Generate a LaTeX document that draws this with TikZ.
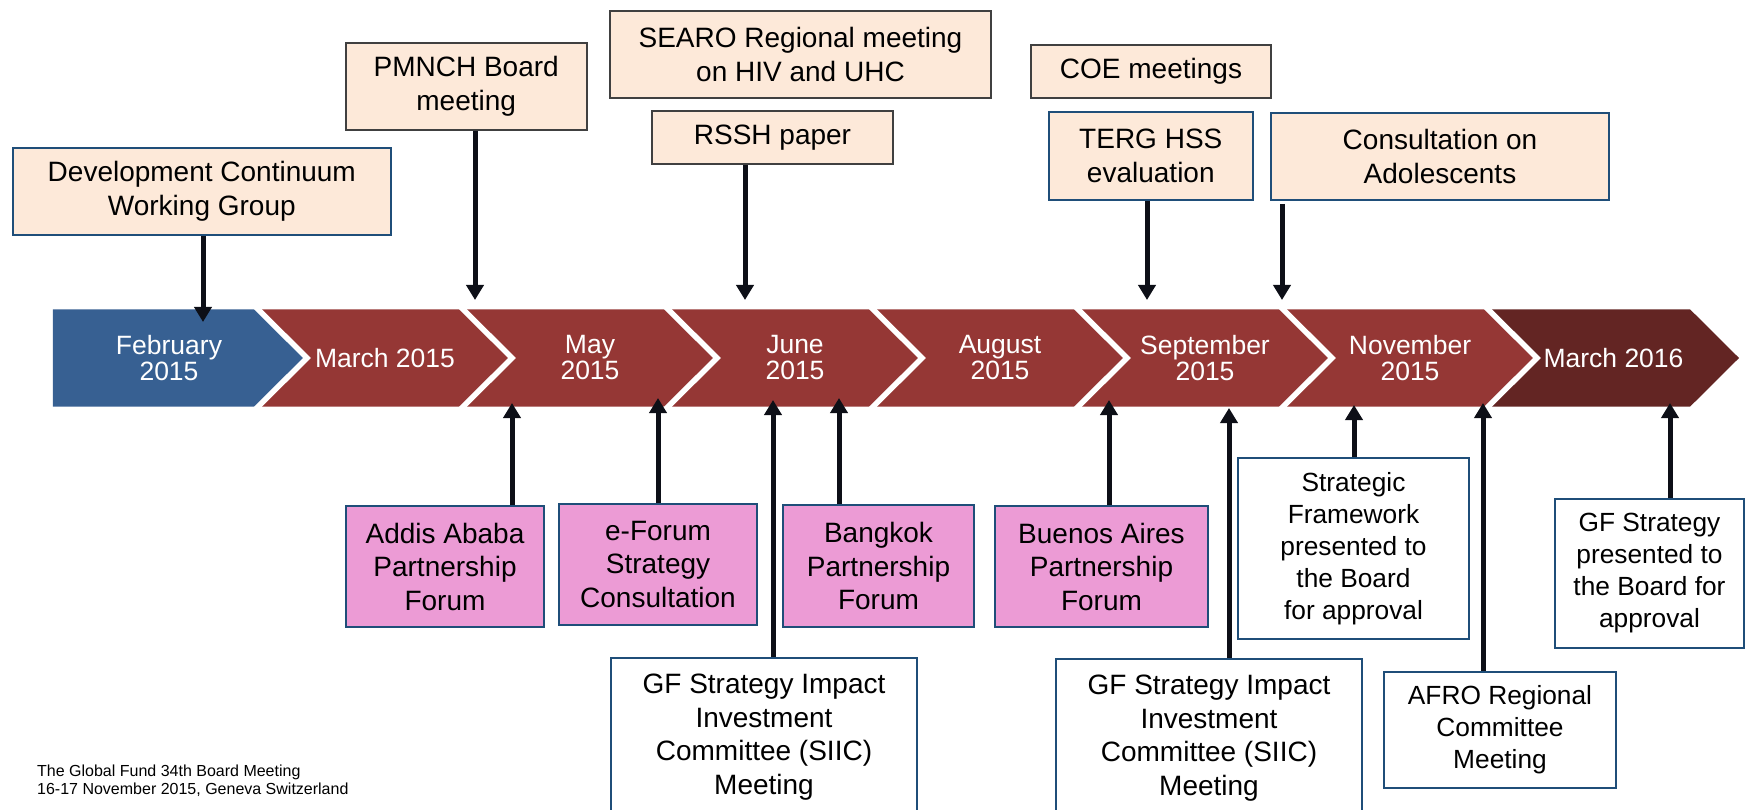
\documentclass[tikz,border=0pt]{standalone}
\usepackage{fontspec}
\setmainfont{Liberation Sans}
\usetikzlibrary{arrows.meta}
\definecolor{bandblue}{HTML}{376092}
\definecolor{bandred}{HTML}{953735}
\definecolor{banddark}{HTML}{632523}
\definecolor{peach}{HTML}{FDE9D9}
\definecolor{pinkfill}{HTML}{EC9BD5}
\definecolor{edgeblue}{HTML}{1F4E79}
\definecolor{edgegray}{HTML}{404040}
\definecolor{arrowink}{HTML}{0D0F17}
\begin{document}
\begin{tikzpicture}[x=1pt,y=-1pt,
  box/.style={rectangle, inner sep=0pt, align=center, line width=2pt, font=\fontsize{28}{33.5}\selectfont},
  smallfont/.style={font=\fontsize{26.3}{32}\selectfont},
  peachblue/.style={box, fill=peach, draw=edgeblue},
  peachgray/.style={box, fill=peach, draw=edgegray},
  pinkbox/.style={box, fill=pinkfill, draw=edgeblue},
  whitebox/.style={box, fill=white, draw=edgeblue},
  monthlabel/.style={text=white, align=center, inner sep=0pt, font=\fontsize{26.5}{26}\selectfont},
  arr/.style={draw=arrowink, line width=5pt, -{Triangle[width=17pt,length=15pt]}},
]
\useasboundingbox (0,0) rectangle (1746,810);
\clip (0,0) rectangle (1746,810);

% ---- timeline band ----
\fill[bandblue] (52.8,309.3) -- (258,309.3) -- (307,358) -- (258,406.7) -- (52.8,406.7) -- cycle;
\foreach \a/\b in {258/463,463/668,668/873,873/1078,1078/1283,1283/1488}
  \fill[bandred] (\a,309.3) -- (\b,309.3) -- (\b+49,358) -- (\b,406.7) -- (\a,406.7) -- (\a+49,358) -- cycle;
\fill[banddark] (1488,309.3) -- (1690,309.3) -- (1739,358) -- (1690,406.7) -- (1488,406.7) -- (1537,358) -- cycle;
\begin{scope}
  \clip (40,309.3) rectangle (1746,406.7);
  \foreach \b in {258,463,...,1488}
    \draw[white, line width=5.5pt] (\b-15,294.4) -- (\b+49,358) -- (\b-15,421.6);
\end{scope}

\node[monthlabel] (mfeb) at (169,358) {February\\2015};
\node[monthlabel] (mmar) at (385,358) {March 2015};
\node[monthlabel] (mmay) at (590,358) {May\\2015};
\node[monthlabel] (mjun) at (795,358) {June\\2015};
\node[monthlabel] (maug) at (1000,358) {August\\2015};
\node[monthlabel] (msep) at (1205,358) {September\\2015};
\node[monthlabel] (mnov) at (1410,358) {November\\2015};
\node[monthlabel] (mmar16) at (1613.5,358) {March 2016};

% ---- top boxes ----
\node[peachblue, minimum width=378.4pt, minimum height=87pt] (dev) at (201.8,191.5) {Development Continuum\\Working Group};
\node[peachgray, minimum width=241pt, minimum height=87pt] (pmnch) at (466.2,86.5) {PMNCH Board\\meeting};
\node[peachgray, minimum width=381pt, minimum height=87pt] (searo) at (800.5,54.5) {SEARO Regional meeting\\on HIV and UHC};
\node[peachgray, minimum width=241pt, minimum height=53pt] (rssh) at (772.5,137.5) {RSSH paper};
\node[peachgray, minimum width=240pt, minimum height=53pt] (coe) at (1151,71.5) {COE meetings};
\node[peachblue, minimum width=204.5pt, minimum height=88pt] (terg) at (1150.8,156) {TERG HSS\\evaluation};
\node[peachblue, minimum width=338pt, minimum height=87pt] (cons) at (1440,156.5) {Consultation on\\Adolescents};

% ---- bottom boxes ----
\node[pinkbox, minimum width=198pt, minimum height=121pt] (addis) at (445,566.5) {Addis Ababa\\Partnership\\Forum};
\node[pinkbox, minimum width=198pt, minimum height=121pt] (eforum) at (658,564.5) {e-Forum\\Strategy\\Consultation};
\node[whitebox, minimum width=306pt, minimum height=158pt] (siicA) at (764,737) {GF Strategy Impact\\Investment\\Committee (SIIC)\\Meeting};
\node[pinkbox, minimum width=191pt, minimum height=122pt] (bangkok) at (878.5,566) {Bangkok\\Partnership\\Forum};
\node[pinkbox, minimum width=213pt, minimum height=121pt] (buenos) at (1101.5,566.5) {Buenos Aires\\Partnership\\Forum};
\node[whitebox, minimum width=306pt, minimum height=158pt] (siicB) at (1209,738) {GF Strategy Impact\\Investment\\Committee (SIIC)\\Meeting};
\node[whitebox, smallfont, minimum width=231pt, minimum height=181pt] (strat) at (1353.5,548.5) {Strategic\\Framework\\presented to\\the Board\\for approval};
\node[whitebox, smallfont, minimum width=232pt, minimum height=116pt] (afro) at (1500,730) {AFRO Regional\\Committee\\Meeting};
\node[whitebox, smallfont, minimum width=189pt, minimum height=149pt] (gfs) at (1649.5,573.5) {GF Strategy\\presented to\\the Board for\\approval};

% ---- footer ----
\node[anchor=west, align=left, inner sep=0pt, font=\fontsize{16}{18.3}\selectfont] (foot) at (37,781) {The Global Fund 34th Board Meeting\\16-17 November 2015, Geneva Switzerland};

% ---- arrow end points on the band ----
\coordinate (tdev) at (203,322);
\coordinate (tpm) at (475,300);
\coordinate (trs) at (745,300);
\coordinate (tte) at (1147,300);
\coordinate (tca) at (1282,300);
\coordinate (bad) at (512,403);
\coordinate (bef) at (658,398);
\coordinate (bsa) at (773,400);
\coordinate (bbk) at (839,398);
\coordinate (bba) at (1109,400);
\coordinate (bsb) at (1229,408);
\coordinate (bsf) at (1354,405);
\coordinate (baf) at (1483,403);
\coordinate (bgf) at (1670,403);

% ---- arrows ----
\draw[arr] (dev.south -| tdev) -- (tdev);
\draw[arr] (pmnch.south -| tpm) -- (tpm);
\draw[arr] (rssh.south -| trs) -- (trs);
\draw[arr] (terg.south -| tte) -- (tte);
\draw[arr] ([yshift=-3pt]cons.south -| tca) -- (tca);
\draw[arr] (addis.north -| bad) -- (bad);
\draw[arr] (eforum.north -| bef) -- (bef);
\draw[arr] (siicA.north -| bsa) -- (bsa);
\draw[arr] (bangkok.north -| bbk) -- (bbk);
\draw[arr] (buenos.north -| bba) -- (bba);
\draw[arr] (siicB.north -| bsb) -- (bsb);
\draw[arr] (strat.north -| bsf) -- (bsf);
\draw[arr] (afro.north -| baf) -- (baf);
\draw[arr] (gfs.north -| bgf) -- (bgf);
\end{tikzpicture}
\end{document}
